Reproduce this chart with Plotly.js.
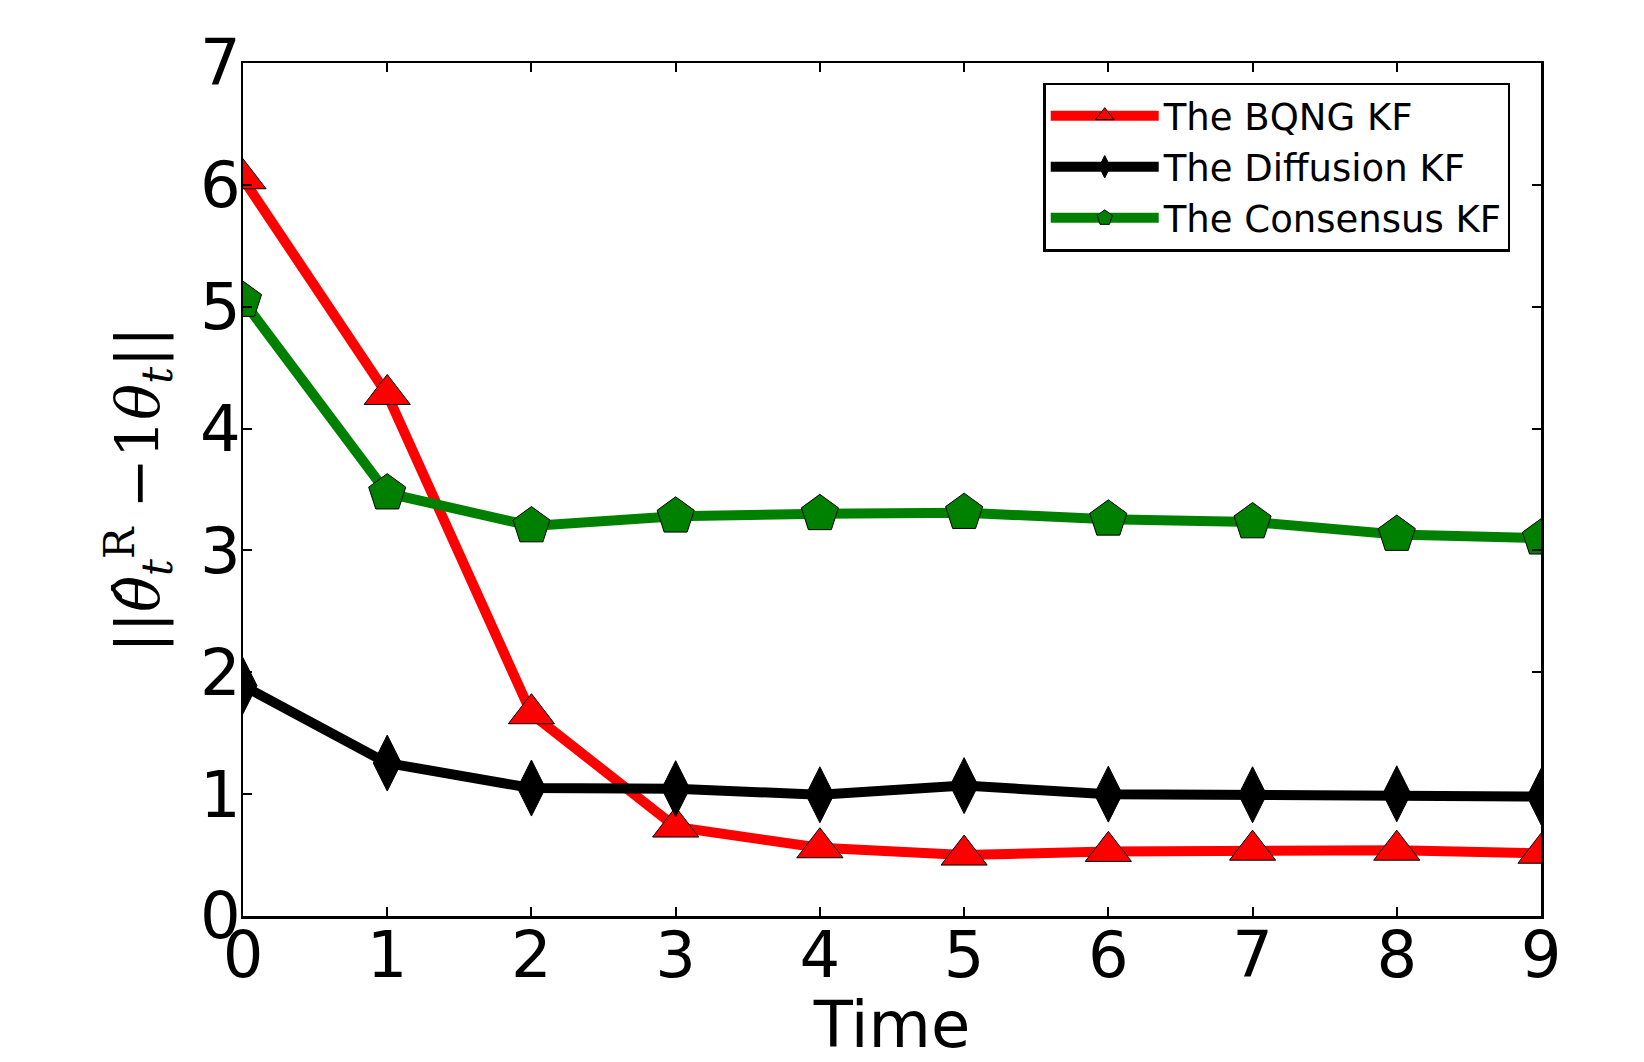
<!DOCTYPE html>
<html>
<head>
<meta charset="utf-8">
<script src="https://cdn.plot.ly/plotly-3.0.1.min.js"></script>
<style>html,body{margin:0;padding:0;background:#fff;}#chart{width:1644px;height:1062px;}</style>
</head>
<body>
<div id="chart"></div>
<script>
const timeSteps = [0, 1, 2, 3, 4, 5, 6, 7, 8, 9];
const bqngKF = [6.05, 4.28, 1.66, 0.73, 0.56, 0.50, 0.53, 0.54, 0.54, 0.515];
const diffusionKF = [1.89, 1.255, 1.05, 1.045, 0.995, 1.07, 1.0, 0.995, 1.003, 0.98];
const consensusKF = [5.05, 3.47, 3.20, 3.28, 3.30, 3.31, 3.255, 3.233, 3.13, 3.10];
const seriesNames = ['The BQNG KF', 'The Diffusion KF', 'The Consensus KF'];
const xTicks = [0, 1, 2, 3, 4, 5, 6, 7, 8, 9];
const yTicks = [0, 1, 2, 3, 4, 5, 6, 7];

const traces = [
  {x: timeSteps, y: bqngKF, name: seriesNames[0], mode: 'lines+markers',
   line: {color: '#ff0000', width: 10},
   marker: {symbol: 'triangle-up', size: 40, color: '#ff0000', line: {color: '#000', width: 1}}},
  {x: timeSteps, y: diffusionKF, name: seriesNames[1], mode: 'lines+markers',
   line: {color: '#000000', width: 10},
   marker: {symbol: 'diamond-tall', size: 40, color: '#000000', line: {color: '#000', width: 1}}},
  {x: timeSteps, y: consensusKF, name: seriesNames[2], mode: 'lines+markers',
   line: {color: '#008000', width: 10},
   marker: {symbol: 'pentagon', size: 39, color: '#008000', line: {color: '#000', width: 1}}}
];

const axisCommon = {
  showgrid: false, zeroline: false, showline: true, linecolor: '#000', linewidth: 2.5,
  mirror: 'ticks', ticks: 'inside', ticklen: 9, tickwidth: 2, tickcolor: '#000',
  tickfont: {family: 'DejaVu Sans', size: 64, color: '#000'}
};

const layout = {
  width: 1644, height: 1062,
  margin: {l: 243, r: 103, t: 63, b: 146},
  paper_bgcolor: '#fff', plot_bgcolor: '#fff',
  showlegend: true,
  xaxis: Object.assign({}, axisCommon, {
    range: [0, 9], tickvals: xTicks, ticktext: xTicks.map(String),
    ticklabelstandoff: -18,
    title: {text: 'Time', font: {family: 'DejaVu Sans', size: 64, color: '#000'}, standoff: 30}
  }),
  yaxis: Object.assign({}, axisCommon, {
    range: [0, 7], tickvals: yTicks, ticktext: yTicks.map(String),
    ticklabelstandoff: -13,
    title: {text: "||<span style=\"font-family:'DejaVu Serif'\"><i>θ̂</i><sub><i>t</i></sub><sup>R</sup> −1<i>θ</i><sub><i>t</i></sub></span>||",
            font: {family: 'DejaVu Sans', size: 60, color: '#000'}, standoff: 21}
  }),
  legend: {
    x: 0.6165, y: 0.977, xanchor: 'left', yanchor: 'top',
    bgcolor: '#fff', bordercolor: '#000', borderwidth: 2.5,
    font: {family: 'DejaVu Sans', size: 37, color: '#000'},
    itemwidth: 108, tracegroupgap: 0
  }
};

Plotly.newPlot('chart', traces, layout, {displayModeBar: false, staticPlot: true});
</script>
</body>
</html>
